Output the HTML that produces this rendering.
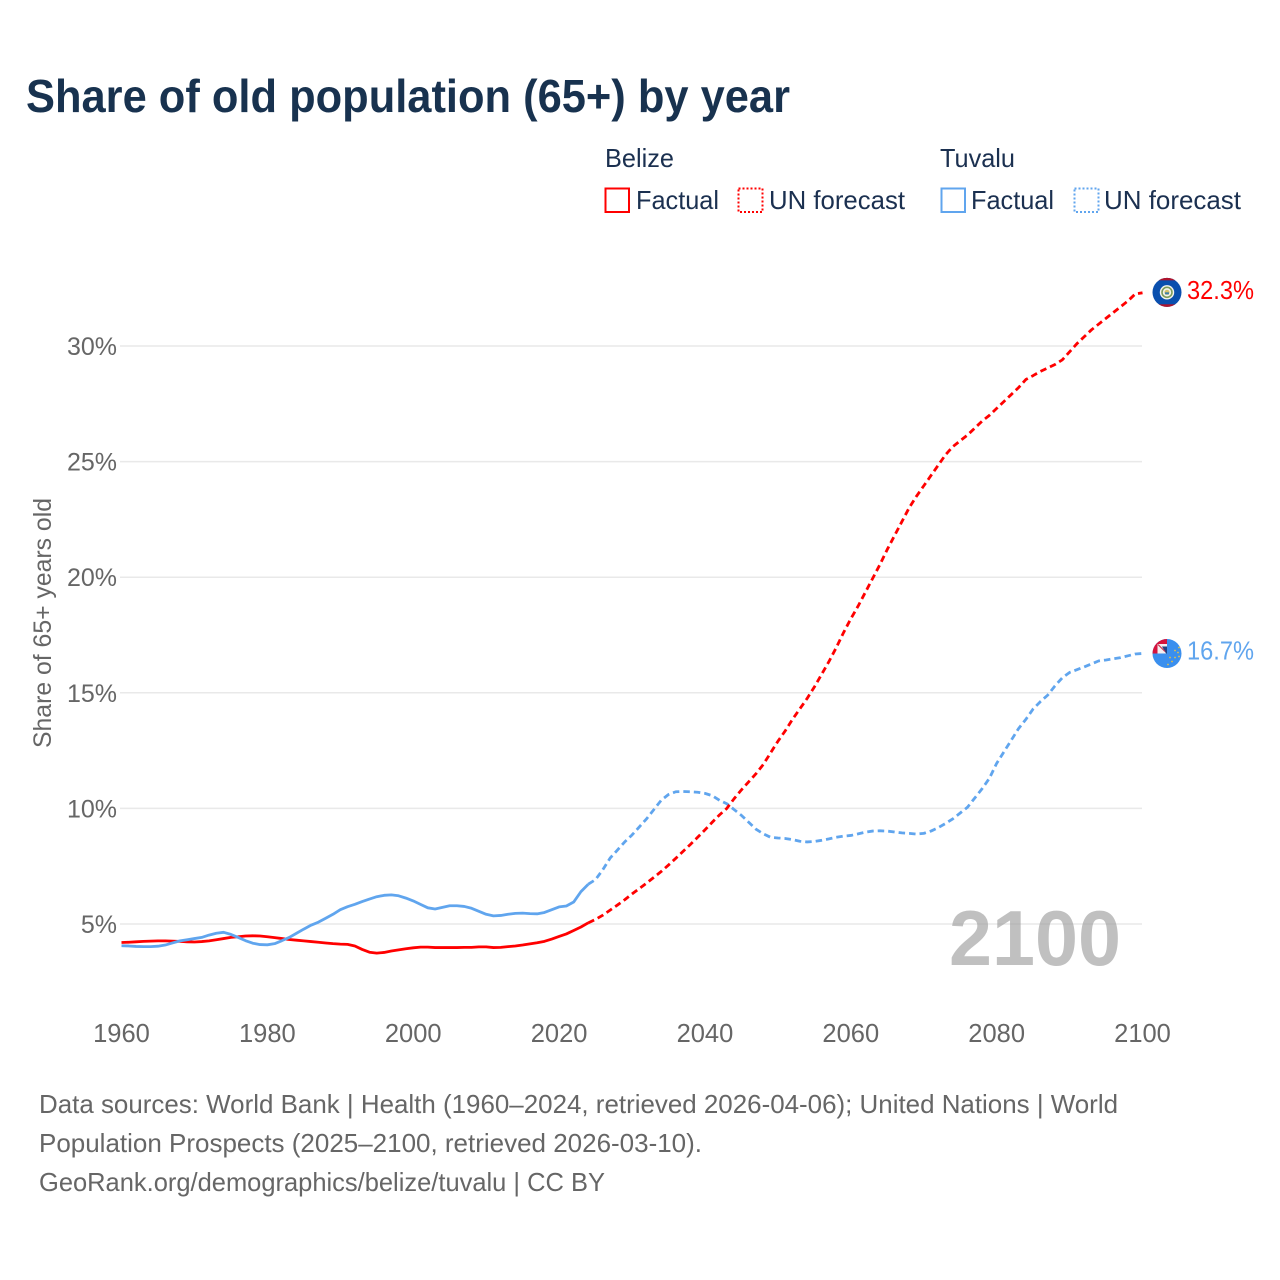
<!DOCTYPE html>
<html lang="en">
<head>
<meta charset="utf-8">
<title>Share of old population (65+) by year</title>
<style>
html,body{margin:0;padding:0;background:#fff;}
svg{display:block;font-family:"Liberation Sans",sans-serif;}
.tick{fill:#666;font-size:25px;}
.legend{fill:#1b3050;font-size:26px;}
.foot{fill:#666;font-size:26px;}
</style>
</head>
<body>
<svg id="chart" width="1280" height="1280" viewBox="0 0 1280 1280" xmlns="http://www.w3.org/2000/svg">
  <rect width="1280" height="1280" fill="#fff"/>
  <text x="26" y="112" font-size="46" font-weight="700" fill="#18324f" textLength="764" lengthAdjust="spacingAndGlyphs">Share of old population (65+) by year</text>

  <g>
    <text class="legend" x="605" y="167" textLength="69" lengthAdjust="spacingAndGlyphs">Belize</text>
    <rect x="605.5" y="188.5" width="23.5" height="23.5" fill="none" stroke="#ff0000" stroke-width="2"/>
    <text class="legend" x="636" y="209" textLength="83" lengthAdjust="spacingAndGlyphs">Factual</text>
    <rect x="738.5" y="188.5" width="24" height="23.5" fill="none" stroke="#ff0000" stroke-width="2" stroke-dasharray="2 2"/>
    <text class="legend" x="769" y="209" textLength="136" lengthAdjust="spacingAndGlyphs">UN forecast</text>

    <text class="legend" x="940" y="167" textLength="75" lengthAdjust="spacingAndGlyphs">Tuvalu</text>
    <rect x="941.5" y="188.5" width="23.5" height="23.5" fill="none" stroke="#60a5ee" stroke-width="2"/>
    <text class="legend" x="971" y="209" textLength="83" lengthAdjust="spacingAndGlyphs">Factual</text>
    <rect x="1074.5" y="188.5" width="24" height="23.5" fill="none" stroke="#60a5ee" stroke-width="2" stroke-dasharray="2 2"/>
    <text class="legend" x="1104" y="209" textLength="137" lengthAdjust="spacingAndGlyphs">UN forecast</text>
  </g>

  <g id="grid"></g>
  <g id="yticks"></g>
  <g id="xticks"></g>
  <text class="tick" transform="translate(51,748) rotate(-90)" x="0" y="0" textLength="250" lengthAdjust="spacingAndGlyphs">Share of 65+ years old</text>

  <text x="949" y="965" font-size="78" font-weight="700" fill="#999" fill-opacity="0.62" textLength="172" lengthAdjust="spacingAndGlyphs">2100</text>

  <g id="lines"></g>

  <defs>
    <clipPath id="flag-clip"><circle cx="0" cy="0" r="14.5"/></clipPath>
  </defs>

  <g id="flag-belize">
    <g clip-path="url(#flag-clip)">
      <rect x="-15" y="-15" width="30" height="30" fill="#0a4fae"/>
      <rect x="-15" y="-15" width="30" height="3" fill="#b0132b"/>
      <rect x="-15" y="12" width="30" height="3" fill="#b0132b"/>
      <circle cx="0" cy="0" r="7.2" fill="#f4f4ee"/>
      <circle cx="0" cy="0" r="5" fill="none" stroke="#7f9c5a" stroke-width="1.6"/>
      <circle cx="0" cy="0" r="2.6" fill="#d9c36a"/>
      <rect x="-2" y="0" width="4" height="2" fill="#3d7fa8"/>
    </g>
  </g>
  <g id="flag-tuvalu">
    <g clip-path="url(#flag-clip)">
      <rect x="-15" y="-15" width="30" height="30" fill="#3a8fee"/>
      <rect x="-15" y="-15" width="15" height="15" fill="#d5133c"/>
      <rect x="-9.5" y="-9.5" width="9.5" height="9.5" fill="#f3eef0"/>
      <polygon points="-5,-7 0,-7 0,0 -1,0" fill="#23407f"/>
      <line x1="-9" y1="-9" x2="-2" y2="-2" stroke="#c9344f" stroke-width="1.2"/>
      <g fill="#e3c24a">
        <circle cx="12" cy="-6" r="0.9"/>
        <circle cx="8" cy="-3" r="0.9"/>
        <circle cx="11" cy="-1" r="0.9"/>
        <circle cx="12" cy="3" r="0.9"/>
        <circle cx="3" cy="4" r="0.9"/>
        <circle cx="8" cy="4" r="0.9"/>
        <circle cx="5" cy="8" r="0.9"/>
        <circle cx="1" cy="11" r="0.9"/>
      </g>
    </g>
  </g>
  <text id="label-belize" x="1187" font-size="26" fill="#ff0000" textLength="67" lengthAdjust="spacingAndGlyphs"></text>
  <text id="label-tuvalu" x="1187" font-size="26" fill="#60a5ee" textLength="67" lengthAdjust="spacingAndGlyphs"></text>

  <g>
    <text class="foot" x="39" y="1113" textLength="1079" lengthAdjust="spacingAndGlyphs">Data sources: World Bank | Health (1960–2024, retrieved 2026-04-06); United Nations | World</text>
    <text class="foot" x="39" y="1152" textLength="663" lengthAdjust="spacingAndGlyphs">Population Prospects (2025–2100, retrieved 2026-03-10).</text>
    <text class="foot" x="39" y="1191" textLength="566" lengthAdjust="spacingAndGlyphs">GeoRank.org/demographics/belize/tuvalu | CC BY</text>
  </g>
</svg>

<script>
const startYear = 1960;
const lastFactualYear = 2024;
const xTickYears = [1960, 1980, 2000, 2020, 2040, 2060, 2080, 2100];
const yTickValues = [5, 10, 15, 20, 25, 30];

const belizeFactual = [
  4.2,4.21,4.23,4.25,4.26,4.27,4.27,4.26,4.25,4.23,
  4.22,4.24,4.27,4.32,4.37,4.42,4.45,4.48,4.49,4.48,
  4.45,4.41,4.37,4.33,4.3,4.27,4.24,4.21,4.18,4.15,
  4.13,4.12,4.05,3.9,3.78,3.74,3.77,3.83,3.88,3.93,
  3.97,4.0,4.0,3.98,3.98,3.98,3.98,3.99,3.99,4.01,
  4.01,3.98,3.99,4.02,4.05,4.09,4.14,4.19,4.25,4.35,
  4.46,4.57,4.72,4.87,5.05
];
const belizeForecast = [
  5.2,5.38,5.6,5.82,6.05,6.3,6.53,6.77,7.02,7.27,
  7.55,7.84,8.14,8.44,8.75,9.07,9.4,9.72,10.0,10.42,
  10.8,11.15,11.5,11.9,12.4,12.9,13.35,13.85,14.3,14.75,
  15.25,15.8,16.35,16.95,17.6,18.2,18.75,19.35,19.95,20.55,
  21.2,21.8,22.4,23.0,23.5,23.95,24.4,24.85,25.3,25.65,
  25.9,26.15,26.45,26.75,27.0,27.3,27.6,27.9,28.2,28.55,
  28.72,28.9,29.05,29.2,29.4,29.75,30.1,30.4,30.7,30.95,
  31.2,31.45,31.7,31.95,32.25,32.3
];
const tuvaluFactual = [
  4.06,4.05,4.03,4.02,4.02,4.04,4.09,4.18,4.27,4.32,
  4.37,4.42,4.52,4.6,4.64,4.55,4.42,4.28,4.17,4.11,
  4.1,4.15,4.28,4.42,4.6,4.78,4.95,5.08,5.25,5.42,
  5.62,5.75,5.85,5.97,6.08,6.18,6.24,6.26,6.22,6.12,
  6.0,5.85,5.7,5.65,5.72,5.79,5.79,5.76,5.68,5.55,
  5.42,5.35,5.37,5.42,5.46,5.47,5.45,5.44,5.5,5.62,
  5.74,5.78,5.95,6.4,6.72
];
const tuvaluForecast = [
  6.92,7.35,7.85,8.2,8.55,8.85,9.2,9.55,9.95,10.35,
  10.6,10.72,10.73,10.72,10.7,10.65,10.55,10.35,10.2,9.95,
  9.7,9.4,9.1,8.9,8.75,8.72,8.7,8.65,8.58,8.55,
  8.57,8.62,8.68,8.75,8.8,8.83,8.9,8.97,9.02,9.03,
  9.02,8.98,8.94,8.92,8.89,8.92,9.02,9.17,9.35,9.55,
  9.8,10.05,10.45,10.85,11.3,11.95,12.45,12.95,13.45,13.85,
  14.3,14.62,14.9,15.3,15.65,15.88,16.0,16.12,16.25,16.38,
  16.42,16.47,16.52,16.6,16.68,16.7
];

const SVG_NS = 'http://www.w3.org/2000/svg';
const RED = '#ff0000';
const BLUE = '#60a5ee';

function xScale(year) { return 121.5 + (year - 1960) * 7.293; }
function yScale(value) { return 1039.6 - value * 23.12; }

function buildPoints(values, firstYear, prefix) {
  const pts = prefix ? [prefix] : [];
  values.forEach(function (v, i) {
    pts.push(xScale(firstYear + i).toFixed(2) + ',' + yScale(v).toFixed(2));
  });
  return pts.join(' ');
}

const gridGroup = document.getElementById('grid');
const yTickGroup = document.getElementById('yticks');
yTickValues.forEach(function (v) {
  const line = document.createElementNS(SVG_NS, 'line');
  
  
  line.setAttribute('x1', 120);
  line.setAttribute('x2', 1142);
  line.setAttribute('y1', yScale(v));
  line.setAttribute('y2', yScale(v));
  line.setAttribute('stroke', '#e9e9e9');
  line.setAttribute('stroke-width', 1.5);
  gridGroup.appendChild(line);

  const label = document.createElementNS(SVG_NS, 'text');
  
  
  label.setAttribute('class', 'tick');
  label.setAttribute('x', 117);
  label.setAttribute('y', yScale(v) + 9);
  label.setAttribute('text-anchor', 'end');
  label.textContent = v + '%';
  yTickGroup.appendChild(label);
});

const xTickGroup = document.getElementById('xticks');
xTickYears.forEach(function (yr) {
  const label = document.createElementNS(SVG_NS, 'text');
  
  
  label.setAttribute('class', 'tick');
  label.setAttribute('x', xScale(yr));
  label.setAttribute('y', 1042);
  label.setAttribute('text-anchor', 'middle');
  label.setAttribute('font-size', '25.5');
  label.style.fontSize = '25.5px';
  label.textContent = yr;
  xTickGroup.appendChild(label);
});

const lineGroup = document.getElementById('lines');
function drawLine(points, color, dashed, name) {
  const p = document.createElementNS(SVG_NS, 'polyline');
  
  
  p.setAttribute('points', points);
  p.setAttribute('fill', 'none');
  p.setAttribute('stroke', color);
  p.setAttribute('stroke-width', 2.8);
  p.setAttribute('stroke-linejoin', 'round');
  if (dashed) { p.setAttribute('stroke-dasharray', '6.5 4'); }
  lineGroup.appendChild(p);
}

const belizeJoin = xScale(lastFactualYear).toFixed(2) + ',' + yScale(belizeFactual[belizeFactual.length - 1]).toFixed(2);
const tuvaluJoin = xScale(lastFactualYear).toFixed(2) + ',' + yScale(tuvaluFactual[tuvaluFactual.length - 1]).toFixed(2);
drawLine(buildPoints(tuvaluForecast, lastFactualYear + 1, tuvaluJoin), BLUE, true, 'tuvalu-forecast-line');
drawLine(buildPoints(belizeFactual, startYear), RED, false, 'belize-factual-line');
drawLine(buildPoints(belizeForecast, lastFactualYear + 1, belizeJoin), RED, true, 'belize-forecast-line');
drawLine(buildPoints(tuvaluFactual, startYear), BLUE, false, 'tuvalu-factual-line');

const belizeEnd = belizeForecast[belizeForecast.length - 1];
const tuvaluEnd = tuvaluForecast[tuvaluForecast.length - 1];
document.getElementById('flag-belize').setAttribute('transform', 'translate(1167,' + (yScale(belizeEnd) - 0.5) + ')');
document.getElementById('flag-tuvalu').setAttribute('transform', 'translate(1167,' + yScale(tuvaluEnd) + ')');
const belizeLabel = document.getElementById('label-belize');
belizeLabel.setAttribute('y', yScale(belizeEnd) + 6);
belizeLabel.textContent = belizeEnd.toFixed(1) + '%';
const tuvaluLabel = document.getElementById('label-tuvalu');
tuvaluLabel.setAttribute('y', yScale(tuvaluEnd) + 6);
tuvaluLabel.textContent = tuvaluEnd.toFixed(1) + '%';
</script>
</body>
</html>
